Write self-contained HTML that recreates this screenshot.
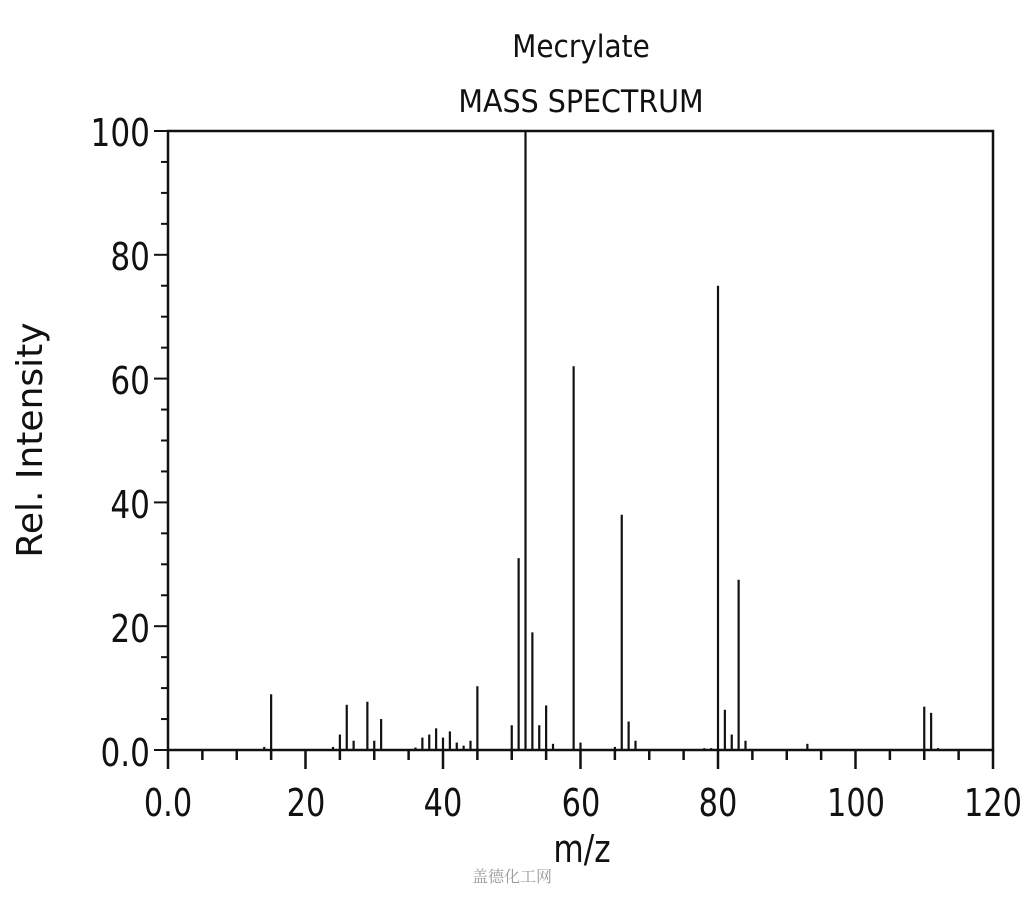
<!DOCTYPE html>
<html><head><style>body{margin:0;background:#fff}svg{display:block}</style></head><body>
<svg width="1024" height="900" xmlns="http://www.w3.org/2000/svg" font-family="DejaVu Sans, Liberation Sans, sans-serif">
<text transform="translate(581,57) scale(0.9,1)" font-size="31" text-anchor="middle" fill="#111">Mecrylate</text>
<text transform="translate(581,112) scale(0.92,1)" font-size="31" text-anchor="middle" fill="#111">MASS SPECTRUM</text>
<g stroke="#111" fill="none">
<rect x="168" y="131" width="825" height="619" stroke-width="2.5"/>
<g id="peaks" stroke-width="2.2"></g>
</g>
<g id="ticks" stroke="#111"></g>
<g font-size="38" fill="#111" text-anchor="end">
<text transform="translate(150,146) scale(0.82,1)">100</text>
<text transform="translate(150,270) scale(0.82,1)">80</text>
<text transform="translate(150,394) scale(0.82,1)">60</text>
<text transform="translate(150,518) scale(0.82,1)">40</text>
<text transform="translate(150,642) scale(0.82,1)">20</text>
<text transform="translate(150,766) scale(0.82,1)">0.0</text>
</g>
<g font-size="38" fill="#111" text-anchor="middle">
<text transform="translate(168,816) scale(0.8,1)">0.0</text>
<text transform="translate(306,816) scale(0.8,1)">20</text>
<text transform="translate(443,816) scale(0.8,1)">40</text>
<text transform="translate(581,816) scale(0.8,1)">60</text>
<text transform="translate(718,816) scale(0.8,1)">80</text>
<text transform="translate(856,816) scale(0.8,1)">100</text>
<text transform="translate(993,816) scale(0.8,1)">120</text>
<text transform="translate(582,862) scale(0.82,1)">m/z</text>
</g>
<text transform="translate(42,440) rotate(-90)" font-size="36" text-anchor="middle" fill="#111">Rel. Intensity</text>
<text x="512" y="882" font-size="16" text-anchor="middle" fill="#999" font-family="Liberation Serif, Noto Serif CJK SC, serif">盖德化工网</text>
</svg>
<script>
var d=[[14,.5],[15,9],[24,.5],[25,2.5],[26,7.3],[27,1.5],[29,7.8],[30,1.5],[31,5],[36,.4],[37,2],[38,2.5],[39,3.5],[40,2],[41,3],[42,1.2],[43,.7],[44,1.5],[45,10.3],[50,4],[51,31],[52,100],[53,19],[54,4],[55,7.2],[56,1],[59,62],[60,1.2],[65,.5],[66,38],[67,4.6],[68,1.5],[78,.3],[79,.3],[80,75],[81,6.5],[82,2.5],[83,27.5],[84,1.5],[93,1],[110,7],[111,6],[112,.3]];
var ns="http://www.w3.org/2000/svg",g=document.getElementById('peaks');
d.forEach(function(p){var x=168+6.875*p[0],l=document.createElementNS(ns,'line');l.setAttribute('x1',x);l.setAttribute('x2',x);l.setAttribute('y1',750);l.setAttribute('y2',750-6.19*p[1]);g.appendChild(l);});
var t=document.getElementById('ticks');
function ln(a,b,c,e,w){var l=document.createElementNS(ns,'line');l.setAttribute('x1',a);l.setAttribute('y1',b);l.setAttribute('x2',c);l.setAttribute('y2',e);l.setAttribute('stroke-width',w);t.appendChild(l);}
for(var m=0;m<=120;m+=5){var x=168+6.875*m;ln(x,750,x,m%20==0?769:760,2.5);}
for(var v=0;v<=100;v+=5){var y=750-6.19*v;ln(168,y,v%20==0?154:161,y,2);}
</script>
</body></html>
